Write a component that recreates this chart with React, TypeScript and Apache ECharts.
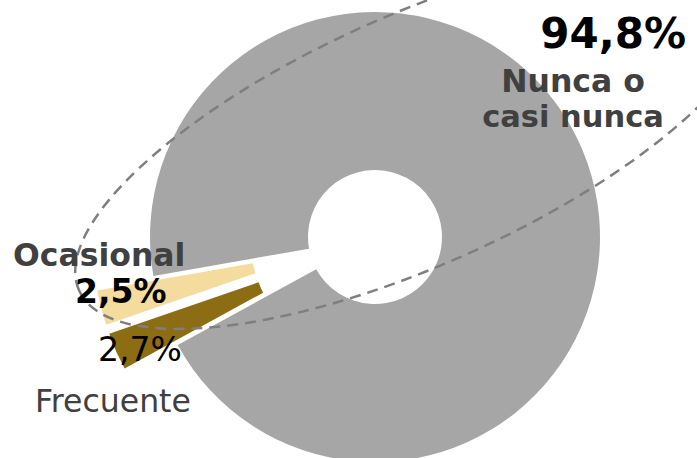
import React, { useEffect, useRef } from "react";
import * as echarts from "echarts";

const categories = ["Nunca o casi nunca", "Frecuente", "Ocasional"];
const values = [94.8, 2.7, 2.5];
const colors = ["#A6A6A6", "#8C6D14", "#F3DC9E"];

const fmt = (v: number) => v.toFixed(1).replace(".", ",") + "%";

export default function App() {
  const ref = useRef<HTMLDivElement>(null);
  useEffect(() => {
    if (!ref.current) return;
    const chart = echarts.init(ref.current, null, { renderer: "svg" });
    const font = "DejaVu Sans";
    const txt = (
      text: string,
      x: number,
      baseline: number,
      size: number,
      bold: boolean,
      fill: string,
      align: string
    ) => ({
      type: "text",
      x,
      y: baseline - 0.9 * size,
      z: 110,
      silent: true,
      style: {
        text,
        font: `${bold ? "bold " : ""}${size}px "${font}"`,
        fill,
        align,
        verticalAlign: "top",
      },
    });
    chart.setOption({
      animation: false,
      series: [
        {
          type: "pie",
          center: [375, 237],
          radius: [67, 225],
          startAngle: 190,
          clockwise: true,
          selectedMode: "multiple",
          selectedOffset: 58,
          emphasis: { disabled: true },
          label: { show: false },
          labelLine: { show: false },
          silent: true,
          data: categories.map((name, i) => ({
            name,
            value: values[i],
            selected: i > 0,
            itemStyle: { color: colors[i], borderWidth: 0 },
            select: { itemStyle: { color: colors[i], borderWidth: 0 } },
          })),
        },
      ],
      graphic: [
        {
          type: "ellipse",
          x: 416,
          y: 140,
          rotation: (24.1 * Math.PI) / 180,
          shape: { cx: 0, cy: 0, rx: 369, ry: 125 },
          style: { fill: "none", stroke: "#7F7F7F", lineWidth: 2.5, lineDash: [11, 7] },
          z: 100,
          silent: true,
        },
        txt(fmt(values[0]), 686, 50, 42, true, "#000000", "right"),
        txt("Nunca o", 573, 93, 31.5, true, "#404040", "center"),
        txt("casi nunca", 573, 128, 30.5, true, "#404040", "center"),
        txt(categories[2], 13, 267, 31.5, true, "#404040", "left"),
        txt(fmt(values[2]), 75, 305, 33, true, "#000000", "left"),
        txt(fmt(values[1]), 98, 363, 33, false, "#000000", "left"),
        txt(categories[1], 35, 413, 31.5, false, "#404040", "left"),
      ],
    });
    return () => chart.dispose();
  }, []);
  return (
    <div
      ref={ref}
      style={{ position: "fixed", left: 0, top: 0, width: 697, height: 458, background: "#ffffff" }}
    />
  );
}
